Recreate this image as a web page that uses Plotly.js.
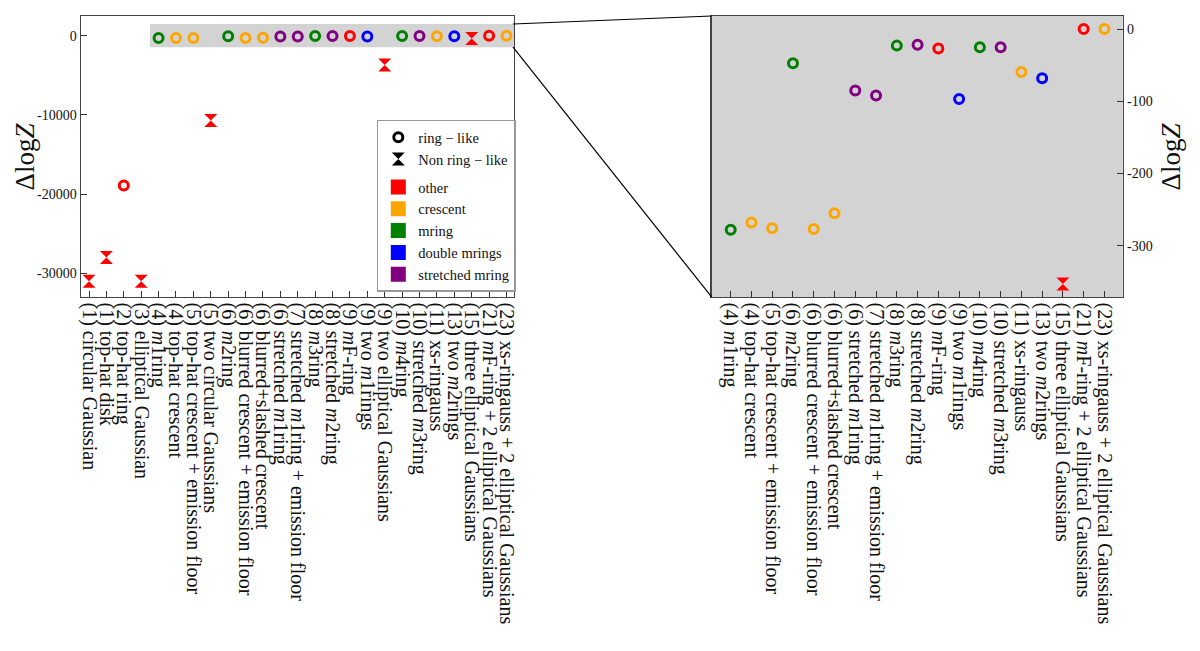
<!DOCTYPE html>
<html>
<head>
<meta charset="utf-8">
<script src="https://cdn.plot.ly/plotly-3.0.1.min.js"></script>
<style>
  html, body { margin: 0; padding: 0; background: #fff; }
  #chart { width: 1200px; height: 651px; }
</style>
</head>
<body>
<div id="chart"></div>
<script>
// model labels (left to right)
const labels = [
  '(1) circular Gaussian',
  '(1) top-hat disk',
  '(2) top-hat ring',
  '(3) elliptical Gaussian',
  '(4) <i>m</i>1ring',
  '(4) top-hat crescent',
  '(5) top-hat crescent + emission floor',
  '(5) two circular Gaussians',
  '(6) <i>m</i>2ring',
  '(6) blurred crescent + emission floor',
  '(6) blurred+slashed crescent',
  '(6) stretched <i>m</i>1ring',
  '(7) stretched <i>m</i>1ring + emission floor',
  '(8) <i>m</i>3ring',
  '(8) stretched <i>m</i>2ring',
  '(9) <i>m</i>F-ring',
  '(9) two <i>m</i>1rings',
  '(9) two elliptical Gaussians',
  '(10) <i>m</i>4ring',
  '(10) stretched <i>m</i>3ring',
  '(11) xs-ringauss',
  '(13) two <i>m</i>2rings',
  '(15) three elliptical Gaussians',
  '(21) <i>m</i>F-ring + 2 elliptical Gaussians',
  '(23) xs-ringauss + 2 elliptical Gaussians'
];

const dlogz = [-31000, -28000, -18900, -31000, -278, -268, -276, -10700, -47.5, -277,
               -255, -85, -92, -23, -21.7, -27, -97, -3700, -25.4, -25.4,
               -59.5, -68, -353, 0, 0];

const family = ['other', 'other', 'other', 'other', 'mring', 'crescent', 'crescent', 'other',
                'mring', 'crescent', 'crescent', 'stretched mring', 'stretched mring', 'mring',
                'stretched mring', 'other', 'double mrings', 'other', 'mring', 'stretched mring',
                'crescent', 'double mrings', 'other', 'other', 'crescent'];

const ringLike = [false, false, true, false, true, true, true, false, true, true,
                  true, true, true, true, true, true, true, false, true, true,
                  true, true, false, true, true];

const familyNames = ['other', 'crescent', 'mring', 'double mrings', 'stretched mring'];
const familyColors = ['red', 'orange', 'green', 'blue', 'purple'];

const leftTicks = [0, -10000, -20000, -30000];
const rightTicks = [0, -100, -200, -300];

const zoomCut = -1000;   // points above this go in the zoom panel

const colorOf = f => familyColors[familyNames.indexOf(f)];
const serif = 'Liberation Serif, Times New Roman, serif';

// indices in the zoom panel
const zoomIdx = [];
dlogz.forEach((v, i) => { if (v > zoomCut) zoomIdx.push(i); });

function panelTraces(idx, xa, ya) {
  const ring = idx.filter(i => ringLike[i]);
  const nonRing = idx.filter(i => !ringLike[i]);
  const pos = i => (xa === 'x' ? i : idx.indexOf(i));
  return [
    {
      x: ring.map(pos), y: ring.map(i => dlogz[i]),
      xaxis: xa, yaxis: ya, type: 'scatter', mode: 'markers', showlegend: false,
      marker: { symbol: 'circle-open', size: 9, color: ring.map(i => colorOf(family[i])), line: { width: 3 } },
      hoverinfo: 'skip'
    },
    {
      x: nonRing.map(pos), y: nonRing.map(i => dlogz[i]),
      xaxis: xa, yaxis: ya, type: 'scatter', mode: 'markers', showlegend: false,
      marker: { symbol: 'hourglass', size: 13, color: nonRing.map(i => colorOf(family[i])) },
      hoverinfo: 'skip'
    }
  ];
}

const allIdx = labels.map((_, i) => i);
const data = [
  ...panelTraces(allIdx, 'x', 'y'),
  ...panelTraces(zoomIdx, 'x2', 'y2')
];

// legend entries
data.push({ x: [null], y: [null], type: 'scatter', mode: 'markers', name: 'ring − like',
  legendgroup: 'shape', marker: { symbol: 'circle-open', size: 9, color: 'black', line: { width: 3 } } });
data.push({ x: [null], y: [null], type: 'scatter', mode: 'markers', name: 'Non ring − like',
  legendgroup: 'shape', marker: { symbol: 'hourglass', size: 13, color: 'black' } });
familyNames.forEach((f, k) => {
  data.push({ x: [null], y: [null], type: 'scatter', mode: 'markers', name: f,
    legendgroup: 'family', marker: { symbol: 'square', size: 15, color: familyColors[k] } });
});

const axisBase = {
  showline: true, linecolor: '#444', linewidth: 1.5, mirror: true,
  ticks: 'inside', ticklen: 6, tickcolor: '#333', showgrid: false, zeroline: false,
  tickfont: { family: serif, size: 14, color: '#111' }
};
const labelFont = { family: serif, size: 20, color: '#111' };
const titleFont = { family: serif, size: 27, color: '#111' };

const layout = {
  width: 1200, height: 651,
  margin: { l: 0, r: 0, t: 0, b: 0 },
  paper_bgcolor: 'white', plot_bgcolor: 'white',
  font: { family: serif, color: '#111' },
  showlegend: true,
  legend: {
    x: 0.314, y: 0.816, xanchor: 'left', yanchor: 'top',
    bgcolor: 'white', bordercolor: '#999', borderwidth: 1.5,
    font: { family: serif, size: 14.5 }, tracegroupgap: 6, traceorder: 'grouped'
  },
  xaxis: Object.assign({}, axisBase, {
    domain: [0.0675, 0.4283], range: [-0.46, 24.43],
    tickmode: 'array', tickvals: allIdx, ticktext: labels, tickangle: 90,
    tickfont: labelFont
  }),
  yaxis: Object.assign({}, axisBase, {
    domain: [0.5438, 0.9754], range: [-33000, 2500],
    tickmode: 'array', tickvals: leftTicks, ticktext: leftTicks.map(String)
  }),
  xaxis2: Object.assign({}, axisBase, {
    anchor: 'y2', domain: [0.593, 0.9356], range: [-0.92, 18.88],
    tickmode: 'array', tickvals: zoomIdx.map((_, k) => k), ticktext: zoomIdx.map(i => labels[i]), tickangle: 90,
    tickfont: labelFont
  }),
  yaxis2: Object.assign({}, axisBase, {
    anchor: 'x2', side: 'right', domain: [0.5438, 0.9754], range: [-371, 18],
    tickmode: 'array', tickvals: rightTicks, ticktext: rightTicks.map(String)
  }),
  // axis titles as annotations so both read bottom-to-top
  annotations: [
    { text: 'Δlog<i>Z</i>', xref: 'paper', yref: 'paper', x: 0.021, y: 0.76,
      xanchor: 'center', yanchor: 'middle', textangle: -90, showarrow: false, font: titleFont },
    { text: 'Δlog<i>Z</i>', xref: 'paper', yref: 'paper', x: 0.976, y: 0.76,
      xanchor: 'center', yanchor: 'middle', textangle: -90, showarrow: false, font: titleFont }
  ],
  shapes: [
    { type: 'rect', xref: 'x', yref: 'y', x0: 3.5, x1: 24.43, y0: -1460, y1: 1480,
      fillcolor: 'lightgray', line: { width: 0 }, layer: 'below' },
    { type: 'rect', xref: 'x2 domain', yref: 'y2 domain', x0: 0, x1: 1, y0: 0, y1: 1,
      fillcolor: 'lightgray', line: { width: 0 }, layer: 'below' },
    { type: 'line', xref: 'paper', yref: 'paper', x0: 0.4275, y0: 0.9631, x1: 0.593, y1: 0.9754,
      line: { color: 'black', width: 1.2 } },
    { type: 'line', xref: 'paper', yref: 'paper', x0: 0.4275, y0: 0.9278, x1: 0.593, y1: 0.5438,
      line: { color: 'black', width: 1.2 } }
  ]
};

Plotly.newPlot('chart', data, layout, { displayModeBar: false, staticPlot: true });
</script>
</body>
</html>
